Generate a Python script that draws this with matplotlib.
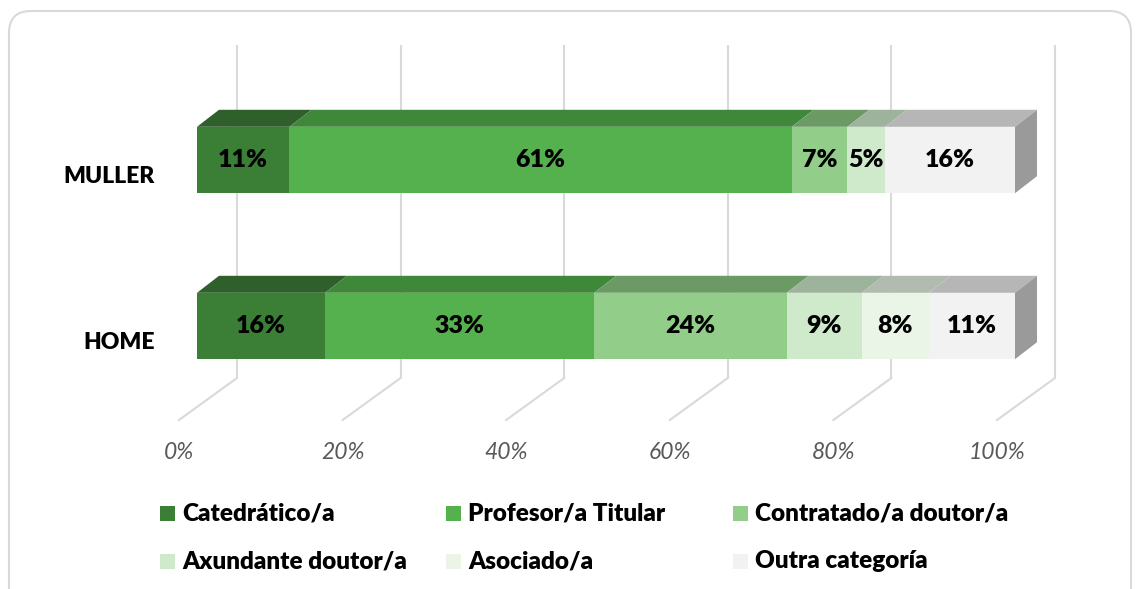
import matplotlib
matplotlib.use("Agg")
import matplotlib.pyplot as plt
from matplotlib.patches import Polygon, Rectangle, FancyBboxPatch

# ---------------- data ----------------
categories = ["HOME", "MULLER"]
series_names = ["Catedrático/a", "Profesor/a Titular", "Contratado/a doutor/a",
                "Axundante doutor/a", "Asociado/a", "Outra categoría"]
home_values = [15.7, 33.0, 23.6, 9.2, 8.2, 10.6]
muller_values = [11.3, 61.4, 6.8, 4.6, 0.0, 15.9]
x_ticks = [0, 20, 40, 60, 80, 100]
x_tick_labels = ["0%", "20%", "40%", "60%", "80%", "100%"]

front_colors = ["#3B7F36", "#55B14E", "#92CE89", "#CFE9CB", "#EAF5E8", "#F2F2F2"]
top_colors = ["#2F5F2B", "#3F8839", "#6B9A65", "#9EB39B", "#B2BBB0", "#B6B6B6"]
side_color = "#9A9A9A"
grid_color = "#D9D9D9"

FONT = "Lato"
BOLD = "heavy"
W, H = 1137, 589
fig = plt.figure(figsize=(W / 100, H / 100), dpi=100)

# background axes in pixel coordinates (border + legend)
bg = fig.add_axes([0, 0, 1, 1])
bg.set_xlim(0, W)
bg.set_ylim(H, 0)
bg.axis("off")
bg.add_patch(FancyBboxPatch((9, 11), 1122, 600, boxstyle="round,pad=0,rounding_size=22",
                            fc="white", ec=grid_color, lw=1.5))

# legend (manual, 3 columns x 2 rows)
col_x = [160, 446, 733]
row_y = [513, 561]
for i, name in enumerate(series_names):
    r, c = divmod(i, 3)
    bg.add_patch(Rectangle((col_x[c], row_y[r] - 7.5), 15, 15, fc=front_colors[i], ec="none"))
    bg.text(col_x[c] + 22, row_y[r], name, fontsize=17.5, fontweight=BOLD, family=FONT,
            va="center", ha="left", color="black")

# data axes: x in percent, y in category units
ax = fig.add_axes([0, 0, 1, 1])
ax.patch.set_alpha(0)
PX = 8.18      # pixels per percent
PY = 166.0     # pixels per category unit
X0, Y0 = 197, 326   # pixel of (0%, HOME)
ax.set_xlim(-X0 / PX, (W - X0) / PX)
ax.set_ylim((Y0 - H) / PY, Y0 / PY)
ax.axis("off")

def dxp(px):
    return px / PX

def dyp(px):
    return px / PY

bar_h = 0.4
depth_x = dxp(22)
depth_y = dyp(17)

# gridlines (back wall + floor)
g_top = dyp(Y0 - 45)
g_bot = dyp(Y0 - 378)
f_bot = dyp(Y0 - 420)
for t in x_ticks:
    bx = t + dxp(40)
    ax.plot([bx, bx], [g_bot, g_top], color=grid_color, lw=1.5, zorder=1, solid_capstyle="butt")
    ax.plot([bx, bx - dxp(58)], [g_bot, f_bot], color=grid_color, lw=1.5, zorder=1)

for t, lab in zip(x_ticks, x_tick_labels):
    ax.text(t - dxp(18), dyp(Y0 - 453), lab, fontsize=16.5, style="italic", family=FONT,
            color="#595959", ha="center", va="center")

# bars
all_values = [home_values, muller_values]
for ci, (cat, vals) in enumerate(zip(categories, all_values)):
    total = sum(vals)
    vals = [v * 100 / total for v in vals]
    yb = ci - bar_h / 2
    yt = ci + bar_h / 2
    left = 0.0
    for si, v in enumerate(vals):
        if v <= 0:
            continue
        x0, x1 = left, left + v
        ax.add_patch(Polygon([(x0, yt), (x1, yt), (x1 + depth_x, yt + depth_y), (x0 + depth_x, yt + depth_y)],
                             closed=True, fc=top_colors[si], ec="none", zorder=3))
        ax.add_patch(Rectangle((x0, yb), v, bar_h, fc=front_colors[si], ec="none", zorder=4))
        orig = (home_values if ci == 0 else muller_values)[si]
        ax.text((x0 + x1) / 2, ci, f"{orig:.0f}%", fontsize=18, fontweight=BOLD, family=FONT,
                ha="center", va="center", color="black", zorder=6)
        left = x1
    ax.add_patch(Polygon([(left, yb), (left, yt), (left + depth_x, yt + depth_y), (left + depth_x, yb + depth_y)],
                         closed=True, fc=side_color, ec="none", zorder=3))
    ax.text(-dxp(42), ci - dyp(17), cat, fontsize=16.5, fontweight=BOLD, family=FONT,
            ha="right", va="center", color="black")

fig.savefig("out.png", dpi=100)
